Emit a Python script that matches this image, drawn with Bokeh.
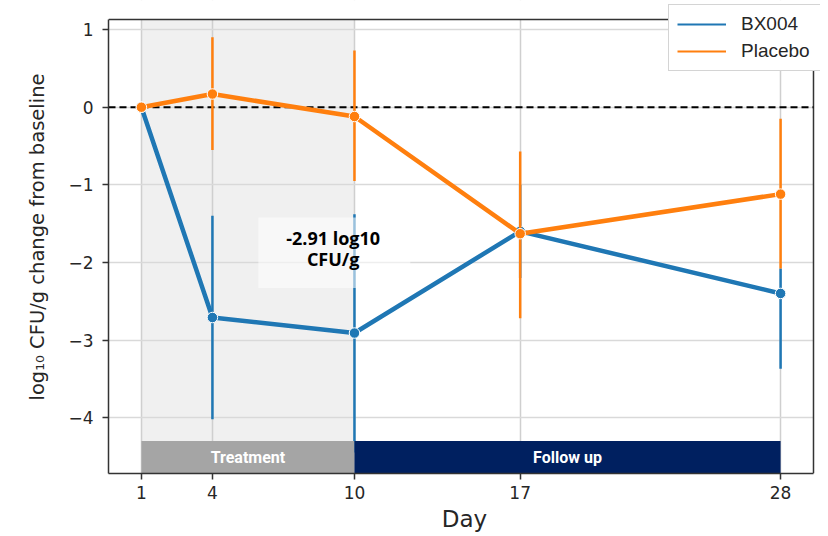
from bokeh.plotting import figure
from bokeh.models import ColumnDataSource, Range1d, FixedTicker, Legend, LegendItem
from bokeh.core.properties import value
from bokeh.embed import file_html
from bokeh.resources import INLINE

days = [1, 4, 10, 17, 28]
bx004_mean = [0.0, -2.71, -2.91, -1.60, -2.40]
bx004_low = [0.0, -4.02, -4.45, -2.20, -3.37]
bx004_high = [0.0, -1.40, -1.38, -1.00, -2.08]
placebo_mean = [0.0, 0.17, -0.12, -1.63, -1.12]
placebo_low = [0.0, -0.55, -0.95, -2.72, -2.08]
placebo_high = [0.0, 0.90, 0.73, -0.57, -0.15]

phase_names = ["Treatment", "Follow up"]
phase_start = [1, 10]
phase_end = [10, 28]
phase_colors = ["#a5a5a5", "#002060"]

x_ticks = [1, 4, 10, 17, 28]
y_ticks = [-4, -3, -2, -1, 0, 1]
annotation_lines = ["-2.91 log10", "CFU/g"]
annotation_day = 9.1

BLUE = "#1f77b4"
ORANGE = "#ff7f0e"
EDGE = "#333333"

# visible axes box
x_lo, x_hi = -0.39, 29.39
y_lo, y_hi = -4.72, 1.13
# the plotting frame reaches a little further (top and right) so the legend can overhang the axes box
x_ext, y_ext = 29.686, 1.375

p = figure(frame_width=712, frame_height=473, width=820, height=528,
           x_range=Range1d(x_lo, x_ext), y_range=Range1d(y_lo, y_ext),
           output_backend="svg", toolbar_location=None,
           min_border_left=108, min_border_right=0, min_border_top=0, min_border_bottom=55)
p.background_fill_color = "white"
p.outline_line_color = None

# shaded treatment period
shade = ColumnDataSource(dict(left=[phase_start[0]], right=[phase_end[0]], top=[y_hi], bottom=[y_lo]))
p.quad(left="left", right="right", top="top", bottom="bottom", source=shade,
       fill_color="#f0f0f0", line_color=None, level="image")

p.xgrid.ticker = FixedTicker(ticks=x_ticks)
p.ygrid.ticker = FixedTicker(ticks=y_ticks)
p.xgrid.grid_line_color = "#cfcfcf"
p.ygrid.grid_line_color = "#d9d9d9"
p.xgrid.grid_line_width = 1.5
p.ygrid.grid_line_width = 1.5

p.xaxis.ticker = FixedTicker(ticks=x_ticks)
p.yaxis.ticker = FixedTicker(ticks=y_ticks)
p.xaxis.bounds = (x_lo, x_hi)
p.yaxis.bounds = (y_lo, y_hi)
p.yaxis.major_label_overrides = {t: (str(t).replace("-", "\u2212")) for t in y_ticks}
for ax in (p.xaxis[0], p.yaxis[0]):
    ax.axis_line_color = EDGE
    ax.axis_line_width = 1.5
    ax.major_tick_line_color = EDGE
    ax.major_tick_line_width = 1.5
    ax.major_tick_in = 0
    ax.major_tick_out = 6
    ax.minor_tick_line_color = None
    ax.major_label_text_font = "DejaVu Sans"
    ax.major_label_text_font_size = "17px"
    ax.major_label_text_color = "#262626"
    ax.axis_label_text_font = "DejaVu Sans"
    ax.axis_label_text_font_style = "normal"
    ax.axis_label_text_color = "#262626"
p.xaxis.axis_label = "Day"
p.xaxis.axis_label_text_font_size = "23px"
p.xaxis.major_label_standoff = 6
p.xaxis.axis_label_standoff = 4
p.yaxis.axis_label = "log\u2081\u2080 CFU/g change from baseline"
p.yaxis.axis_label_text_font_size = "19.5px"
p.yaxis.major_label_standoff = 9
p.yaxis.axis_label_standoff = 16

# white masks over the overhang strips (hide grid lines there)
mask = ColumnDataSource(dict(left=[x_hi, x_lo], right=[x_ext + 1, x_ext + 1],
                             bottom=[y_lo - 1, y_hi], top=[y_ext + 1, y_ext + 1]))
p.quad(left="left", right="right", top="top", bottom="bottom", source=mask,
       fill_color="white", line_color=None)
# top and right edges of the axes box
p.segment(x0=[x_lo, x_hi], y0=[y_hi, y_lo], x1=[x_hi, x_hi], y1=[y_hi, y_hi],
          line_color=EDGE, line_width=1.5)

# zero reference line
p.segment(x0=[x_lo], y0=[0], x1=[x_hi], y1=[0], line_color="black", line_width=2, line_dash="7 4")

bx = ColumnDataSource(dict(x=days, y=bx004_mean, lo=bx004_low, hi=bx004_high))
pl = ColumnDataSource(dict(x=days, y=placebo_mean, lo=placebo_low, hi=placebo_high))

# thin lines (hidden under the thick ones) used as legend glyphs
r_bx = p.line("x", "y", source=bx, line_color=BLUE, line_width=2)
p.line("x", "y", source=bx, line_color=BLUE, line_width=4.5)
p.segment(x0="x", x1="x", y0="lo", y1="hi", source=bx, line_color=BLUE, line_width=2.5)
p.scatter("x", "y", source=bx, size=10.5, fill_color=BLUE, line_color="white", line_width=1)

r_pl = p.line("x", "y", source=pl, line_color=ORANGE, line_width=2)
p.line("x", "y", source=pl, line_color=ORANGE, line_width=4.5)
p.segment(x0="x", x1="x", y0="lo", y1="hi", source=pl, line_color=ORANGE, line_width=2.5)
p.scatter("x", "y", source=pl, size=10.5, fill_color=ORANGE, line_color="white", line_width=1)

# annotation box
ann_box = ColumnDataSource(dict(left=[5.94], right=[12.36], top=[-1.42], bottom=[-2.33]))
p.quad(left="left", right="right", top="top", bottom="bottom", source=ann_box,
       fill_color="white", fill_alpha=0.55, line_color=None)
p.text(x=[annotation_day, annotation_day], y=[-1.69, -1.96], text=annotation_lines,
       text_font=value("Open Sans"), text_font_style="bold", text_font_size="18px",
       text_color="black", text_align="center", text_baseline="middle")

# phase bands
band = ColumnDataSource(dict(left=phase_start, right=phase_end, top=[-4.30, -4.30], bottom=[y_lo, y_lo],
                             color=phase_colors, name=phase_names,
                             mid=[(a + b) / 2 for a, b in zip(phase_start, phase_end)], ty=[-4.52, -4.52]))
p.quad(left="left", right="right", top="top", bottom="bottom", source=band,
       fill_color="color", line_color=None)
p.text(x="mid", y="ty", text="name", source=band, text_font=value("Roboto"),
       text_font_style="bold", text_font_size="16px", text_color="white",
       text_align="center", text_baseline="middle")

legend = Legend(items=[LegendItem(label="BX004", renderers=[r_bx]),
                       LegendItem(label="Placebo", renderers=[r_pl])],
                location=(560, 402))
legend.label_text_font = "Liberation Sans"
legend.label_text_font_size = "19px"
legend.label_text_color = "#262626"
legend.glyph_width = 49
legend.glyph_height = 22
legend.label_height = 22
legend.label_standoff = 15
legend.padding = 8
legend.margin = 0
legend.spacing = 5
legend.border_line_color = "#aaaaaa"
legend.border_line_width = 1.5
legend.background_fill_color = "white"
legend.background_fill_alpha = 1
legend.label_width = 110
p.add_layout(legend)

open("out.html", "w").write(file_html(p, INLINE))
